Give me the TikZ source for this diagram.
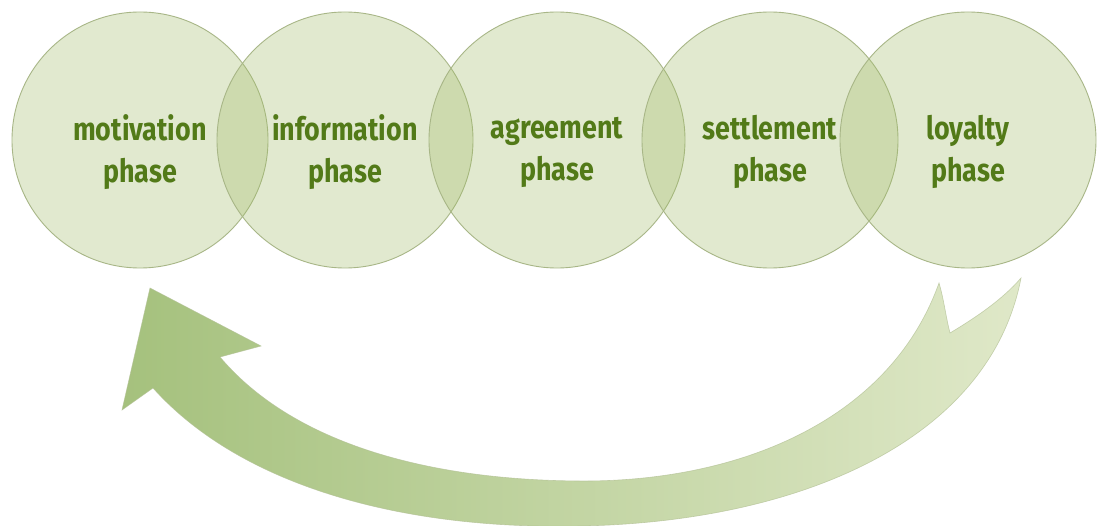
\documentclass[tikz,border=0pt]{standalone}
\usepackage{fontspec}
\newfontfamily\phasefont{Fira Sans}[FakeStretch=0.84]
\definecolor{circfill}{RGB}{161,187,103}
\definecolor{circline}{RGB}{168,182,135}
\definecolor{phasetext}{RGB}{82,122,24}
\definecolor{arrowdark}{RGB}{165,193,125}
\definecolor{arrowlight}{RGB}{223,232,200}
\definecolor{arrowline}{RGB}{178,192,148}
\tikzset{
  phasecircle/.style={circle, minimum size=256pt, inner sep=0pt, draw=circline, line width=0.9pt, fill=circfill, fill opacity=0.31},
  phaselabel/.style={font=\phasefont\bfseries\fontsize{32}{42}\selectfont, text=phasetext, align=center, inner sep=0pt},
  arrowband/.style={left color=arrowdark, right color=arrowlight, draw=arrowline, line width=0.6pt, draw opacity=0.7}
}
\begin{document}
\begin{tikzpicture}[x=1pt, y=-1pt]
\fill[white] (0,0) rectangle (1099,526);
\useasboundingbox (0,0) rectangle (1099,526);
% circles
\node[phasecircle] (c1) at (140,140) {};
\node[phasecircle] (c2) at (345,140) {};
\node[phasecircle] (c3) at (557,140) {};
\node[phasecircle] (c4) at (770,140) {};
\node[phasecircle] (c5) at (968,140) {};
% labels
\node[phaselabel] (t1) at (140,152) {motivation\\phase};
\node[phaselabel] (t2) at (345,152) {information\\phase};
\node[phaselabel] (t3) at (557,152) {agreement\\phase};
\node[phaselabel] (t4) at (770,152) {settlement\\phase};
\node[phaselabel] (t5) at (968,152) {loyalty\\phase};
% return arrow
\path[arrowband] (150,288) -- (261,346) -- (220,357)
  .. controls (290,440) and (420,480) .. (580,481)
  .. controls (740,482) and (890,420) .. (939,283)
  .. controls (944,300) and (946,318) .. (950,333)
  .. controls (975,318) and (1002,300) .. (1021,278)
  .. controls (990,440) and (800,522) .. (580,526)
  .. controls (400,530) and (240,485) .. (153,388)
  -- (122,410) -- cycle;
\end{tikzpicture}
\end{document}
